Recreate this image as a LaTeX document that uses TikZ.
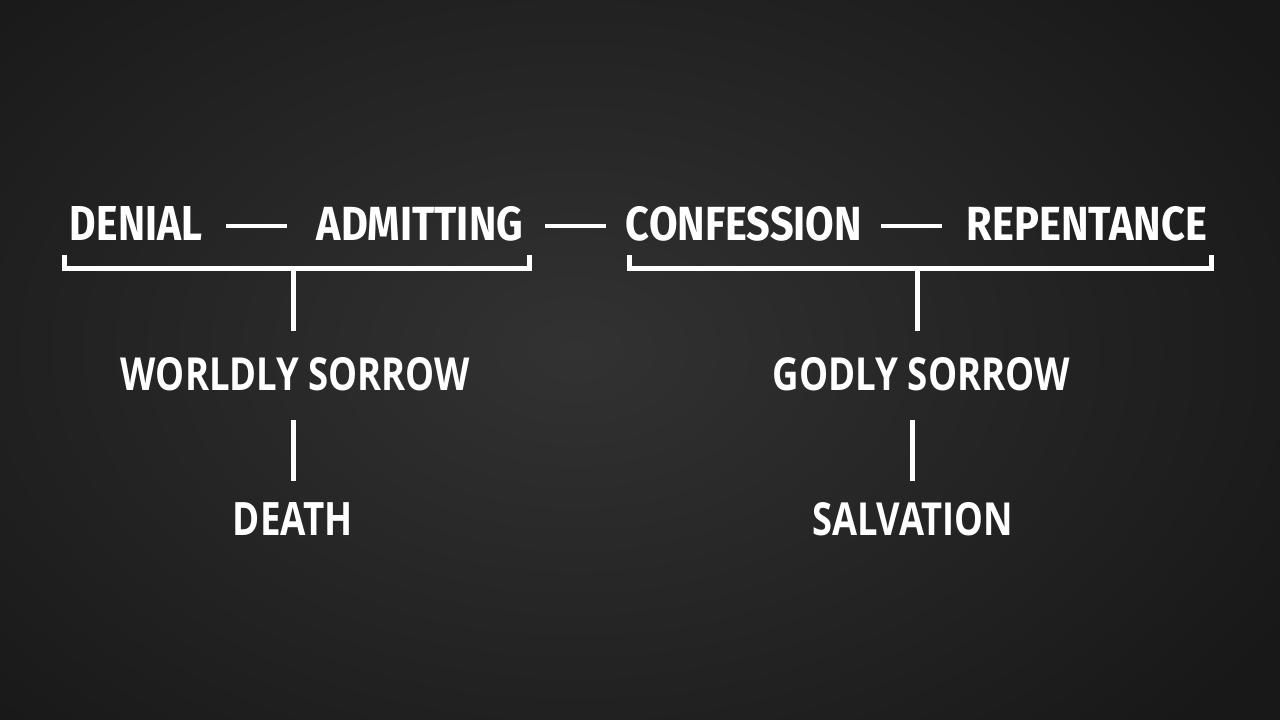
\documentclass[tikz,border=0pt]{standalone}
\usepackage{fontspec}
\usepackage{graphicx}
\setmainfont{Fira Sans}
\newfontfamily\lowfont{Open Sans}
\newcommand{\fitw}[3]{\resizebox{#1pt}{#2pt}{\bfseries #3}}
\newcommand{\fitl}[3]{\resizebox{#1pt}{#2pt}{\lowfont\bfseries #3}}
\definecolor{bgedge}{RGB}{24,24,24}
\definecolor{bgmid}{RGB}{50,50,50}
\begin{document}
\begin{tikzpicture}[x=1pt,y=-1pt,
  lbl/.style={inner sep=0pt,outer sep=0pt,text=white,anchor=base},
  wline/.style={draw=white,line width=5pt},
  dashline/.style={draw=white,line width=4.5pt}]
\useasboundingbox (0,0) rectangle (1280,720);
\fill[bgedge] (0,0) rectangle (1280,720);
\shade[inner color=bgmid,outer color=bgedge] (-250,-200) rectangle (1400,900);
% top row
\node[lbl] (denial) at (136,240) {\fitw{132}{34}{DENIAL}};
\node[lbl] (admitting) at (420,240) {\fitw{206}{34}{ADMITTING}};
\node[lbl] (confession) at (744,240) {\fitw{236}{34}{CONFESSION}};
\node[lbl] (repentance) at (1087,240) {\fitw{240}{34}{REPENTANCE}};
\draw[dashline,shorten <=24pt,shorten >=30pt] (denial.east |- 0,226) -- (admitting.west |- 0,226);
\draw[dashline,shorten <=22pt,shorten >=20pt] (admitting.east |- 0,226) -- (confession.west |- 0,226);
\draw[dashline,shorten <=19pt,shorten >=25pt] (confession.east |- 0,226) -- (repentance.west |- 0,226);
% brackets
\coordinate (lb1) at (64,255);
\coordinate (lb2) at (529,255);
\coordinate (lbm) at (293,268);
\coordinate (rb1) at (629,255);
\coordinate (rb2) at (1211,255);
\coordinate (rbm) at (917,268);
\draw[wline,line join=miter] (lb1) |- (lbm) -| (lb2);
\draw[wline,line join=miter] (rb1) |- (rbm) -| (rb2);
% middle row
\node[lbl] (worldly) at (295.5,390) {\fitl{349}{33}{WORLDLY SORROW}};
\node[lbl] (godly) at (921.5,390) {\fitl{297}{33}{GODLY SORROW}};
\draw[wline] (lbm) -- (lbm |- 0,331);
\draw[wline] (rbm) -- (rbm |- 0,331);
% bottom row
\node[lbl] (death) at (293,535) {\fitl{120}{33}{DEATH}};
\node[lbl] (salvation) at (912.5,535) {\fitl{201}{33}{SALVATION}};
\draw[wline] (death.north |- 0,420) -- (death.north |- 0,481);
\draw[wline] (salvation.north |- 0,420) -- (salvation.north |- 0,481);
\end{tikzpicture}
\end{document}
